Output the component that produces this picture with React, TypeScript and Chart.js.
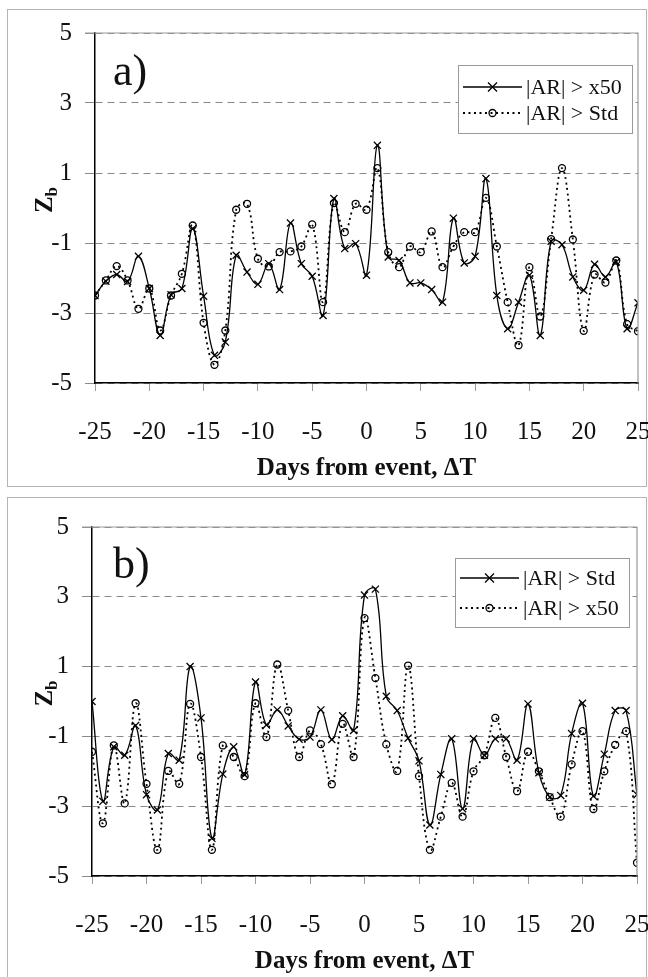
import React, { useEffect, useRef } from "react";
import { Chart, registerables } from "chart.js";

Chart.register(...registerables);

// ---------- DATA ----------
const days = [
  -25, -24, -23, -22, -21, -20, -19, -18, -17, -16, -15, -14, -13, -12, -11, -10, -9, -8, -7, -6, -5, -4, -3, -2, -1,
  0, 1, 2, 3, 4, 5, 6, 7, 8, 9, 10, 11, 12, 13, 14, 15, 16, 17, 18, 19, 20, 21, 22, 23, 24, 25,
];

// Panel a) solid with crosses: |AR| > x50
const aX50 = [
  -2.5, -2.09, -1.9, -2.1, -1.38, -2.3, -3.64, -2.48, -2.3, -0.59, -2.52, -4.21, -3.83, -1.35, -1.83, -2.18, -1.59,
  -2.33, -0.43, -1.59, -1.95, -3.07, 0.27, -1.16, -1.02, -1.92, 1.79, -1.4, -1.5, -2.14, -2.14, -2.33, -2.69, -0.29,
  -1.57, -1.38, 0.84, -2.5, -3.45, -2.69, -1.92, -3.64, -0.95, -1.05, -1.97, -2.35, -1.61, -1.97, -1.54, -3.45, -2.71,
];
// Panel a) dotted with circles: |AR| > Std
const aStd = [
  -2.5, -2.07, -1.66, -2.07, -2.88, -2.3, -3.5, -2.5, -1.88, -0.5, -3.28, -4.48, -3.5, -0.05, 0.12, -1.45, -1.67,
  -1.26, -1.24, -1.1, -0.47, -2.69, 0.14, -0.69, 0.12, -0.05, 1.14, -1.26, -1.69, -1.1, -1.26, -0.67, -1.69, -1.1,
  -0.69, -0.69, 0.29, -1.1, -2.69, -3.92, -1.69, -3.1, -0.89, 1.14, -0.9, -3.51, -1.9, -2.13, -1.5, -3.32, -3.52,
];
// Panel b) solid with crosses: |AR| > Std
const bStd = [
  0.0, -2.86, -1.3, -1.54, -0.69, -2.67, -3.11, -1.49, -1.68, 1.0, -0.47, -3.92, -2.08, -1.3, -2.1, 0.56, -0.67,
  -0.24, -0.7, -1.08, -1.02, -0.24, -1.09, -0.41, -0.83, 3.05, 3.22, 0.15, -0.26, -1.05, -1.7, -3.54, -2.09, -1.07,
  -3.07, -1.07, -1.54, -1.07, -1.07, -1.68, -0.07, -2.04, -2.74, -2.69, -0.92, -0.05, -2.71, -1.51, -0.26, -0.26, -2.67,
];
// Panel b) dotted with circles: |AR| > x50
const bX50 = [
  -1.44, -3.49, -1.26, -2.92, -0.05, -2.36, -4.25, -1.99, -2.36, -0.07, -1.59, -4.25, -1.26, -1.59, -2.14, -0.05,
  -1.02, 1.06, -0.26, -1.59, -0.83, -1.22, -2.37, -0.64, -1.59, 2.39, 0.67, -1.23, -1.99, 1.03, -2.14, -4.25, -3.3,
  -2.33, -3.3, -2.0, -1.54, -0.47, -1.59, -2.57, -1.44, -2.0, -2.74, -3.3, -1.8, -0.85, -3.08, -2.0, -1.24, -0.85, -4.62,
];

const xTitle = "Days from event, \u0394T";
const yTitleMain = "Z";
const yTitleSub = "b";

const SERIF = "'Liberation Serif', 'Times New Roman', serif";

type PanelProps = {
  top: number;
  height: number;
  plotLeft: number;
  plotRight: number;
  plotTop: number;
  plotBottom: number;
  tag: string;
  tagBaseline: number;
  solid: number[];
  dotted: number[];
  solidLabel: string;
  dottedLabel: string;
  legendBox: [number, number, number, number];
  legendRows: [number, number];
};

const CANVAS_W = 700;

function drawCross(ctx: CanvasRenderingContext2D, x: number, y: number, r: number) {
  ctx.beginPath();
  ctx.moveTo(x - r, y - r);
  ctx.lineTo(x + r, y + r);
  ctx.moveTo(x + r, y - r);
  ctx.lineTo(x - r, y + r);
  ctx.stroke();
}

function Panel(p: PanelProps) {
  const ref = useRef<HTMLCanvasElement | null>(null);
  useEffect(() => {
    const canvas = ref.current;
    if (!canvas) return;
    const decor = {
      id: "decor",
      afterDraw(chart: any) {
        const ctx: CanvasRenderingContext2D = chart.ctx;
        const a = chart.chartArea;
        ctx.save();
        // frame: top and right gray lines
        ctx.strokeStyle = "#9a9a9a";
        ctx.lineWidth = 1.2;
        ctx.setLineDash([]);
        ctx.beginPath();
        ctx.moveTo(a.left - 10, a.top);
        ctx.lineTo(a.right, a.top);
        ctx.lineTo(a.right, a.bottom);
        ctx.stroke();

        // panel tag
        ctx.fillStyle = "#111";
        ctx.font = `44px ${SERIF}`;
        ctx.textAlign = "left";
        ctx.textBaseline = "alphabetic";
        ctx.fillText(p.tag, 113, p.tagBaseline);

        // x title
        ctx.font = `bold 25px ${SERIF}`;
        ctx.textAlign = "center";
        ctx.textBaseline = "middle";
        ctx.fillText(xTitle, (a.left + a.right) / 2, a.bottom + 86);

        // y title Z_b rotated
        ctx.save();
        ctx.translate(44, (a.top + a.bottom) / 2 - 8);
        ctx.rotate(-Math.PI / 2);
        ctx.font = `bold 25px ${SERIF}`;
        const wz = ctx.measureText(yTitleMain).width;
        ctx.font = `bold 17px ${SERIF}`;
        const wb = ctx.measureText(yTitleSub).width;
        const x0 = -(wz + wb) / 2;
        ctx.textAlign = "left";
        ctx.textBaseline = "alphabetic";
        ctx.font = `bold 25px ${SERIF}`;
        ctx.fillText(yTitleMain, x0, 8);
        ctx.font = `bold 17px ${SERIF}`;
        ctx.fillText(yTitleSub, x0 + wz, 13);
        ctx.restore();

        // legend
        const [lx1, ly1, lx2, ly2] = p.legendBox;
        ctx.fillStyle = "#fff";
        ctx.fillRect(lx1, ly1, lx2 - lx1, ly2 - ly1);
        ctx.strokeStyle = "#9a9a9a";
        ctx.lineWidth = 1;
        ctx.strokeRect(lx1 + 0.5, ly1 + 0.5, lx2 - lx1, ly2 - ly1);
        const sx1 = lx1 + 5;
        const sx2 = lx1 + 64;
        const mx = (sx1 + sx2) / 2;
        // row 1 solid
        const r1 = p.legendRows[0];
        ctx.strokeStyle = "#000";
        ctx.lineWidth = 1.3;
        ctx.beginPath();
        ctx.moveTo(sx1, r1);
        ctx.lineTo(sx2, r1);
        ctx.stroke();
        drawCross(ctx, mx, r1, 4.5);
        // row 2 dotted
        const r2 = p.legendRows[1];
        ctx.lineWidth = 1.8;
        ctx.setLineDash([2, 3.5]);
        ctx.beginPath();
        ctx.moveTo(sx1, r2);
        ctx.lineTo(sx2, r2);
        ctx.stroke();
        ctx.setLineDash([]);
        ctx.lineWidth = 1.3;
        ctx.beginPath();
        ctx.arc(mx, r2, 3.5, 0, Math.PI * 2);
        ctx.stroke();
        ctx.fillStyle = "#111";
        ctx.font = `22px ${SERIF}`;
        ctx.textAlign = "left";
        ctx.textBaseline = "middle";
        ctx.fillText(p.solidLabel, sx2 + 4, r1 + 1);
        ctx.fillText(p.dottedLabel, sx2 + 4, r2 + 1);
        ctx.restore();
      },
    };

    const chart = new Chart(canvas, {
      type: "line",
      data: {
        datasets: [
          {
            label: p.solidLabel,
            data: days.map((d, i) => ({ x: d, y: p.solid[i] })),
            borderColor: "#000",
            borderWidth: 1.3,
            tension: 0.4,
            fill: false,
            pointStyle: "crossRot",
            pointRadius: 5,
            pointBorderWidth: 1.3,
            pointBorderColor: "#000",
            pointBackgroundColor: "rgba(0,0,0,0)",
          },
          {
            label: p.dottedLabel,
            data: days.map((d, i) => ({ x: d, y: p.dotted[i] })),
            borderColor: "#000",
            borderWidth: 1.8,
            borderDash: [2, 3.5],
            tension: 0.4,
            fill: false,
            pointStyle: "circle",
            pointRadius: 3.5,
            pointBorderWidth: 1.3,
            pointBorderColor: "#000",
            pointBackgroundColor: "rgba(255,255,255,0)",
          },
        ],
      },
      options: {
        responsive: false,
        animation: false,
        devicePixelRatio: 1,
        layout: { padding: { left: 0, right: CANVAS_W - p.plotRight, top: p.plotTop, bottom: 0 } },
        plugins: { legend: { display: false }, tooltip: { enabled: false }, title: { display: false } },
        scales: {
          x: {
            type: "linear",
            min: -25,
            max: 25,
            ticks: {
              stepSize: 5,
              autoSkip: false,
              maxRotation: 0,
              padding: 26,
              color: "#111",
              font: { family: SERIF, size: 25 },
            },
            grid: { drawOnChartArea: false, tickLength: 8, color: "#9a9a9a", lineWidth: 1 },
            border: { color: "#000", width: 1.5 },
            afterFit: (s: any) => {
              s.height = p.height - p.plotBottom;
            },
          },
          y: {
            min: -5,
            max: 5,
            ticks: {
              stepSize: 2,
              padding: 13,
              color: "#111",
              font: { family: SERIF, size: 25 },
            },
            grid: { color: "#8a8a8a", lineWidth: 1, tickLength: 10 },
            border: { color: "#000", width: 1.5, dash: [7, 5] },
            afterFit: (s: any) => {
              s.width = p.plotLeft;
            },
          },
        },
      } as any,
      plugins: [decor],
    });
    return () => chart.destroy();
  }, []);

  return (
    <canvas
      ref={ref}
      width={CANVAS_W}
      height={p.height}
      style={{ position: "absolute", left: 0, top: p.top, width: CANVAS_W, height: p.height }}
    />
  );
}

export default function App() {
  useEffect(() => {
    document.body.style.margin = "0";
    document.body.style.background = "#fff";
  }, []);
  return (
    <div
      style={{
        position: "absolute",
        left: 0,
        top: 0,
        width: 648,
        height: 977,
        overflow: "hidden",
        background: "#fff",
      }}
    >
      <div
        style={{
          position: "absolute",
          left: 7,
          top: 9,
          width: 638,
          height: 476,
          border: "1.5px solid #b4b4b4",
        }}
      />
      <div
        style={{
          position: "absolute",
          left: 7,
          top: 497,
          width: 638,
          height: 500,
          border: "1.5px solid #b4b4b4",
        }}
      />
      <Panel
        top={0}
        height={490}
        plotLeft={95}
        plotRight={638}
        plotTop={33}
        plotBottom={383}
        tag="a)"
        tagBaseline={85}
        solid={aX50}
        dotted={aStd}
        solidLabel="|AR| > x50"
        dottedLabel="|AR| > Std"
        legendBox={[458, 65, 632, 133]}
        legendRows={[87, 113]}
      />
      <Panel
        top={490}
        height={487}
        plotLeft={92}
        plotRight={637}
        plotTop={37}
        plotBottom={386}
        tag="b)"
        tagBaseline={88}
        solid={bStd}
        dotted={bX50}
        solidLabel="|AR| > Std"
        dottedLabel="|AR| > x50"
        legendBox={[455, 68, 629, 137]}
        legendRows={[88, 118]}
      />
    </div>
  );
}
